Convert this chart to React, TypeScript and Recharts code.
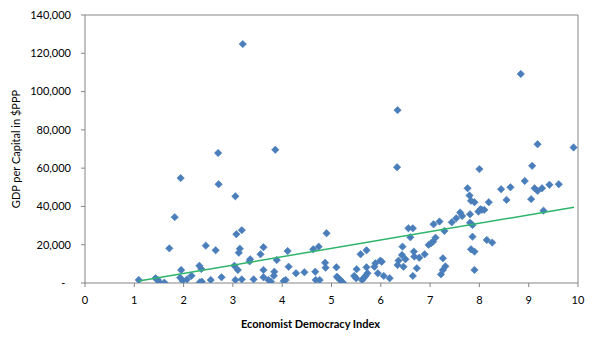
// GDP per capita vs. Economist Democracy Index — scatter with linear trend

import {
  ScatterChart, Scatter, XAxis, YAxis, ReferenceLine,
} from 'recharts'

const BLUE  = '#4A7EBB'
const GREEN = '#2DB56A'
const AXIS  = '#868686'
const FONT  = 'Lato, "Liberation Sans", sans-serif'

// democracy index (x) and GDP per capita in $PPP (y)
const democracyIndex = [
  1.09, 1.43, 1.48, 1.51, 1.61, 1.71, 1.82, 1.94, 1.95, 1.93,
  1.98, 2.07, 2.16, 2.32, 2.36, 2.37, 2.33, 2.45, 2.55, 2.65,
  2.70, 2.71, 2.77, 3.03, 3.05, 3.05, 3.07, 3.10, 3.12, 3.14,
  3.18, 3.18, 3.20, 3.34, 3.35, 3.42, 3.56, 3.62, 3.62, 3.62,
  3.72, 3.77, 3.83, 3.84, 3.86, 3.89, 4.03, 4.07, 4.11, 4.13,
  4.28, 4.45, 4.63, 4.67, 4.68, 4.74, 4.76, 4.87, 4.88, 4.90,
  5.10, 5.11, 5.14, 5.18, 5.21, 5.23, 5.46, 5.50, 5.51, 5.59,
  5.62, 5.65, 5.69, 5.71, 5.71, 5.73, 5.87, 5.89, 5.94, 5.99,
  6.02, 6.06, 6.18, 6.33, 6.34, 6.34, 6.36, 6.43, 6.44, 6.46,
  6.50, 6.56, 6.60, 6.65, 6.65, 6.67, 6.68, 6.73, 6.78, 6.89,
  6.97, 7.02, 7.06, 7.07, 7.11, 7.19, 7.22, 7.26, 7.26, 7.29,
  7.31, 7.44, 7.53, 7.61, 7.65, 7.76, 7.80, 7.81, 7.81, 7.83,
  7.83, 7.86, 7.86, 7.90, 7.90, 7.90, 7.98, 8.00, 8.02, 8.05,
  8.10, 8.15, 8.19, 8.26, 8.44, 8.55, 8.63, 8.84, 8.92, 9.05,
  9.07, 9.12, 9.18, 9.18, 9.27, 9.30, 9.42, 9.61, 9.91,
]
const gdpPerCapita = [
  1600, 2500, 1600, 200, 200, 18100, 34400, 54800, 6800, 2800,
  1200, 1900, 3800, 9000, 7300, 700, 400, 19500, 1600, 17100,
  67900, 51600, 3000, 9000, 45300, 1600, 25500, 6800, 15800, 17900,
  27600, 1900, 124800, 11300, 12400, 1900, 15000, 18700, 6800, 3000,
  1600, 700, 3800, 5900, 69600, 12000, 1000, 1600, 16700, 8500,
  5100, 5600, 17600, 5900, 1600, 19000, 1600, 10600, 8000, 26000,
  8200, 3300, 2500, 1600, 700, 200, 3700, 2500, 7200, 15000,
  1600, 2500, 3700, 17100, 8200, 5100, 8500, 10300, 5100, 11700,
  11100, 3700, 2500, 60500, 90300, 9400, 11700, 14600, 19000, 8500,
  12400, 28600, 23900, 28600, 3700, 16400, 13800, 7700, 13200, 15000,
  19900, 20800, 21600, 30700, 23700, 32100, 4500, 6800, 12900, 27200,
  8700, 31700, 33800, 36800, 35000, 49500, 45700, 35900, 31500, 43000,
  17600, 30300, 24200, 42200, 16400, 6800, 37300, 59500, 38500, 38200,
  38200, 22500, 42200, 21100, 49000, 43400, 50000, 109200, 53300, 43800,
  61200, 49500, 48100, 72500, 49500, 37800, 51300, 51600, 70800,
]

// linear trend line end points
const trendX = [1.09, 9.92]
const trendY = [1000, 39600]

const xTicks = [0, 1, 2, 3, 4, 5, 6, 7, 8, 9, 10]
const yTicks = [0, 20000, 40000, 60000, 80000, 100000, 120000, 140000]

const points = democracyIndex.map((x, i) => ({ x, y: gdpPerCapita[i] }))
const trend  = trendX.map((x, i) => ({ x, y: trendY[i] }))

const TICK = { fontSize: 11, fill: '#000', fontFamily: FONT }

function Diamond(props: { cx?: number; cy?: number }) {
  const { cx = 0, cy = 0 } = props
  const r = 3.7
  return (
    <path d={`M${cx},${cy - r}L${cx + r},${cy}L${cx},${cy + r}L${cx - r},${cy}Z`}
      fill={BLUE} stroke={BLUE} strokeWidth={0.6} />
  )
}

const fmtY = (v: number) => (v === 0 ? '-\u00A0\u00A0' : v.toLocaleString('en-US'))

export default function App() {
  return (
    <div style={{ position: 'absolute', left: 0, top: 0, width: 597, height: 342, background: '#fff' }}>
      <ScatterChart width={597} height={342}
        margin={{ top: 15, right: 19, bottom: 29, left: 25 }}>
        <XAxis type="number" dataKey="x" domain={[0, 10]} ticks={xTicks}
          allowDataOverflow tick={TICK} tickSize={4} tickMargin={9}
          axisLine={{ stroke: AXIS }} tickLine={{ stroke: AXIS }} height={30}
          label={{ value: 'Economist Democracy Index', position: 'bottom', offset: 7, dx: -21,
            style: { fontSize: 11, fontWeight: 700, fill: '#000', fontFamily: FONT } }} />
        <YAxis type="number" dataKey="y" domain={[0, 140000]} ticks={yTicks}
          allowDataOverflow tick={TICK} tickSize={4} tickMargin={10} tickFormatter={fmtY}
          axisLine={{ stroke: AXIS }} tickLine={{ stroke: AXIS }} width={60}
          label={{ value: 'GDP per Capital in $PPP', angle: -90, position: 'insideLeft', offset: -9,
            style: { fontSize: 11, fill: '#000', fontFamily: FONT, textAnchor: 'middle' } }} />
        {/* plot-area frame on top and right */}
        <ReferenceLine y={140000} stroke={AXIS} />
        <ReferenceLine x={10} stroke={AXIS} />
        <Scatter data={points} shape={<Diamond />} isAnimationActive={false} />
        <Scatter data={trend} line={{ stroke: GREEN, strokeWidth: 1.5 }}
          shape={() => null as unknown as React.ReactElement} isAnimationActive={false} />
      </ScatterChart>
    </div>
  )
}
